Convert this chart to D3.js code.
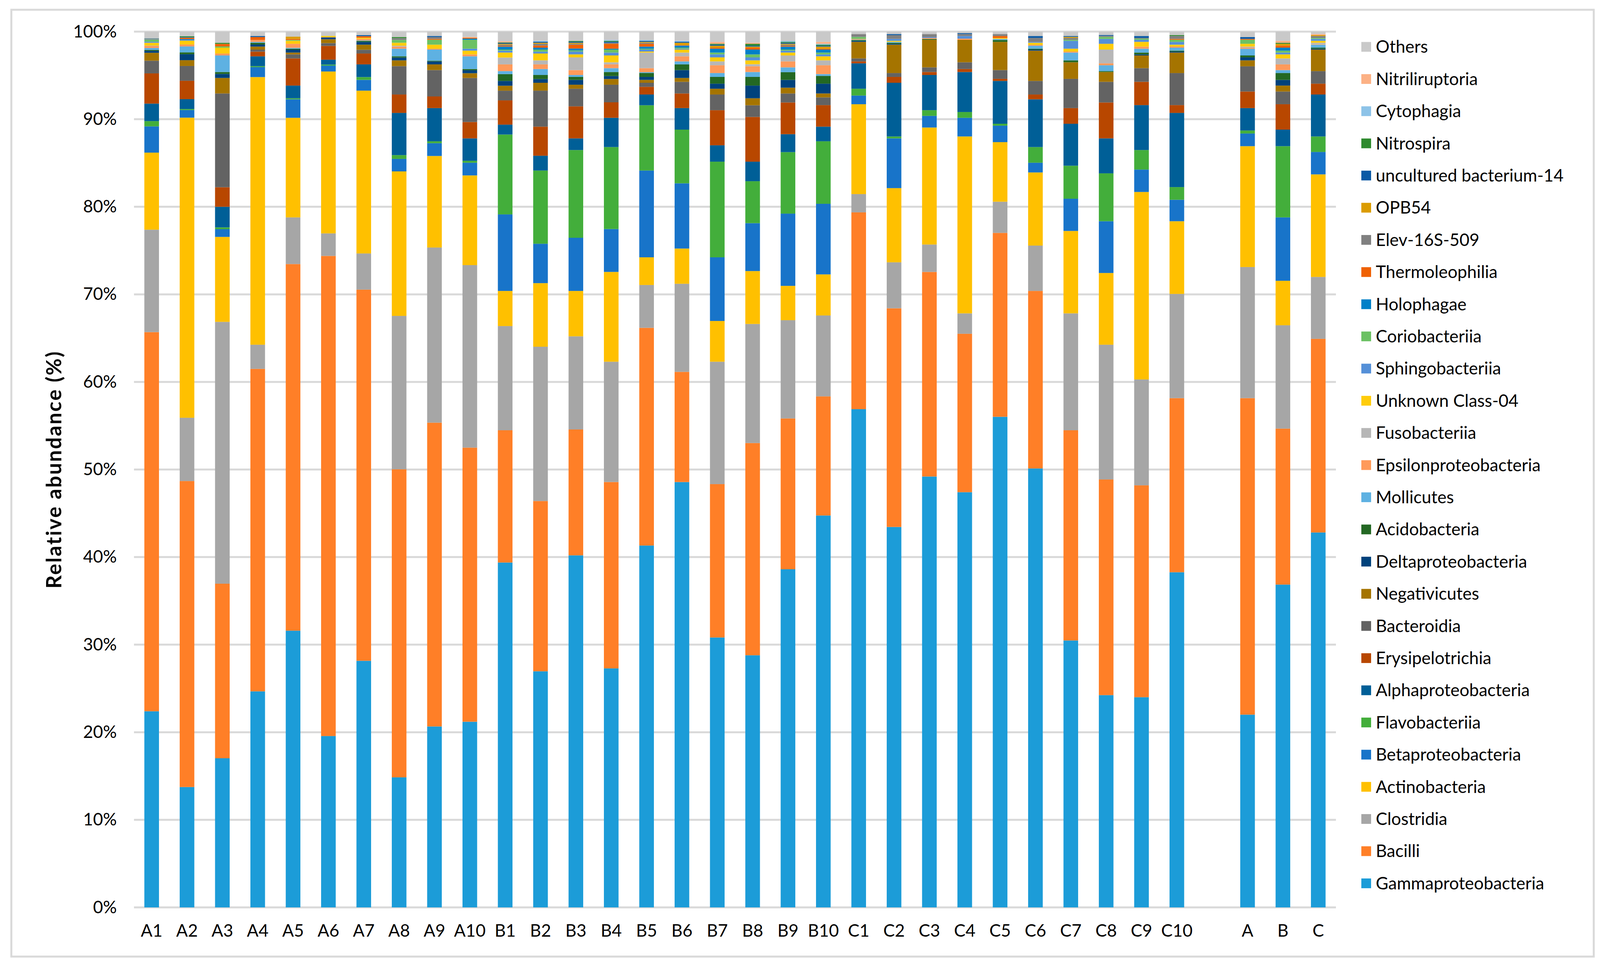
<!DOCTYPE html>
<html>
<head>
<meta charset="utf-8">
<script src="https://cdn.jsdelivr.net/npm/d3@7"></script>
<style>
  html, body { margin: 0; padding: 0; background: #fff; }
  svg { display: block; }
  text { font-family: Lato, "Open Sans", "Liberation Sans", sans-serif; fill: #000; }
</style>
</head>
<body>
<svg id="chart" width="4108" height="2469"></svg>
<script>
// ---------------- DATA ----------------
const categories = ["A1","A2","A3","A4","A5","A6","A7","A8","A9","A10",
                    "B1","B2","B3","B4","B5","B6","B7","B8","B9","B10",
                    "C1","C2","C3","C4","C5","C6","C7","C8","C9","C10",
                    "A","B","C"];
const spacerAfter = "C10";   // an empty slot separates the samples from the group means

const seriesNames = ["Gammaproteobacteria","Bacilli","Clostridia","Actinobacteria","Betaproteobacteria",
  "Flavobacteriia","Alphaproteobacteria","Erysipelotrichia","Bacteroidia","Negativicutes",
  "Deltaproteobacteria","Acidobacteria","Mollicutes","Epsilonproteobacteria","Fusobacteriia",
  "Unknown Class-04","Sphingobacteriia","Coriobacteriia","Holophagae","Thermoleophilia",
  "Elev-16S-509","OPB54","uncultured bacterium-14","Nitrospira","Cytophagia","Nitriliruptoria","Others"];

const gammaproteobacteria = [22.4,13.74,17.03,24.67,31.6,19.55,28.16,14.85,20.66,21.2, 39.38,26.96,40.2,27.29,41.32,48.57,30.82,28.79,38.61,44.75, 56.89,43.44,49.2,47.41,56.02,50.12,30.48,24.24,24.0,38.27, 22.01,36.86,42.81];
const bacilli = [43.3,34.93,19.93,36.82,41.86,54.78,42.38,35.17,34.69,31.3, 15.1,19.44,14.37,21.28,24.86,12.58,17.51,24.23,17.22,13.6, 22.47,24.97,23.36,18.09,21.0,20.27,24.0,24.62,24.19,19.88, 36.14,17.81,22.11];
const clostridia = [11.7,7.23,29.9,2.76,5.33,2.57,4.13,17.52,20.0,20.84, 11.9,17.62,10.64,13.74,4.89,10.06,13.98,13.6,11.22,9.24, 2.09,5.25,3.13,2.33,3.56,5.18,13.35,15.39,12.09,11.9, 14.97,11.8,7.07];
const actinobacteria = [8.8,34.26,9.7,30.56,11.37,18.47,18.59,16.5,10.45,10.24, 4.01,7.26,5.18,10.25,3.16,4.02,4.65,6.04,3.92,4.69, 10.26,8.47,13.36,20.2,6.8,8.35,9.41,8.19,21.41,8.3, 13.8,5.08,11.71];
const betaproteobacteria = [3.0,0.87,0.88,1.13,2.11,0.67,1.23,1.43,1.46,1.45, 8.74,4.5,6.07,4.9,9.91,7.45,7.27,5.47,8.25,8.06, 0.99,5.68,1.33,2.13,1.88,1.11,3.68,5.91,2.56,2.45, 1.45,7.24,2.56];
const flavobacteriia = [0.6,0.12,0.21,0.12,0.12,0.12,0.32,0.43,0.22,0.22, 9.12,8.36,10.02,9.36,7.45,6.13,10.92,4.79,7.02,7.14, 0.78,0.22,0.65,0.66,0.22,1.79,3.77,5.47,2.23,1.45, 0.34,8.13,1.77];
const alphaproteobacteria = [2.0,1.12,2.35,1.12,1.45,0.56,1.45,4.82,3.79,2.56, 1.13,1.69,1.33,3.34,1.23,2.46,1.87,2.23,2.05,1.67, 2.9,6.13,4.02,4.57,4.89,5.45,4.79,3.99,5.13,8.47, 2.56,1.89,4.79];
const erysipelotrichia = [3.45,2.1,2.23,0.53,3.1,1.57,1.24,2.1,1.33,1.87, 2.77,3.32,3.66,1.77,0.88,1.67,4.01,5.11,3.62,2.46, 0.22,0.67,0.34,0.34,0.24,0.55,1.79,4.1,2.66,0.89, 1.89,2.9,1.24];
const bacteroidia = [1.45,1.69,10.71,0.24,0.46,0.32,0.43,3.24,3.01,5.03, 1.11,4.11,2.01,2.01,0.46,1.33,1.79,1.33,1.03,0.88, 0.34,0.44,0.53,0.77,1.0,1.55,3.34,2.36,1.56,3.66, 2.88,1.45,1.43];
const negativicutes = [0.9,0.66,1.77,0.34,0.21,0.44,0.58,0.66,0.65,0.54, 0.56,0.9,0.46,0.65,0.33,0.44,0.66,0.8,0.66,0.45, 1.89,3.24,3.15,2.57,3.22,3.46,1.89,1.12,1.45,2.34, 0.68,0.68,2.46];
const deltaproteobacteria = [0.23,0.68,0.46,0.24,0.34,0.21,0.32,0.32,0.34,0.34, 0.55,0.43,0.55,0.34,0.34,0.9,0.58,1.45,0.89,1.12, 0.12,0.1,0,0,0,0.12,0,0,0.12,0.12, 0.34,0.65,0.1];
const acidobacteria = [0.1,0.21,0.22,0.2,0.1,0,0.12,0.14,0.08,0.14, 0.78,0.46,0.34,0.46,0.44,0.65,0.77,0.99,0.88,0.89, 0.1,0.12,0.1,0,0.22,0.1,0.22,0.1,0.21,0.1, 0.22,0.78,0.12];
const mollicutes = [0.22,0.68,1.89,0.1,0.1,0,0.05,0.87,1.27,1.45, 0.34,0.68,0.22,0.44,0.1,0.34,0.44,0.56,0.55,0.2, 0.04,0.1,0,0,0.12,0.34,0.89,0.67,0.44,0.34, 0.77,0.34,0.34];
const epsilonproteobacteria = [0.22,0.22,0.22,0.22,0.46,0.04,0.17,0.24,0.1,0.22, 0.77,0.53,0.56,0.43,0.46,0.58,0.89,0.65,0.68,1.01, 0.08,0,0.11,0.13,0,0.1,0.12,0.22,0.24,0.14, 0.12,0.65,0.05];
const fusobacteriia = [0.05,0,0,0,0,0,0,0.1,0,0, 0.78,0.46,1.45,0.24,1.78,0.43,0.44,0.24,0.68,0.56, 0,0,0,0,0,0,0,1.57,0,0, 0.12,0.68,0.17];
const unknownClass04 = [0.33,0.44,0.67,0,0.34,0.14,0.13,0.34,0.46,0.43, 0.57,0.78,0.34,0.78,0.12,0.34,0.46,0.44,0.33,0.46, 0,0.12,0,0,0.11,0.24,0.32,0.66,0.54,0.2, 0.32,0.46,0.22];
const sphingobacteriia = [0.12,0.1,0,0,0,0,0,0,0,0.22, 0.22,0.21,0.33,0.33,0.22,0.1,0.34,0.34,0.22,0.22, 0,0.22,0.1,0.3,0,0.1,0.9,0.56,0.24,0.32, 0,0.21,0.22];
const coriobacteriia = [0.22,0,0.14,0,0.1,0,0,0.32,0.56,1.02, 0.12,0.24,0.12,0.34,0.1,0.12,0.21,0.34,0.12,0.21, 0.23,0,0,0,0,0,0.12,0.23,0.13,0.24, 0.46,0.22,0.11];
const holophagae = [0.03,0.08,0,0,0,0,0,0,0,0.13, 0.34,0.22,0.22,0.1,0.24,0.24,0.44,0.55,0.34,0.34, 0,0,0,0,0,0,0,0,0,0, 0,0.34,0];
const thermoleophilia = [0.02,0.15,0.29,0.33,0.12,0,0.18,0,0.1,0.1, 0.1,0.24,0.44,0.56,0.32,0.06,0.12,0.22,0.1,0.1, 0,0,0,0,0.22,0,0,0,0,0.1, 0.1,0.24,0];
const elev16S509 = [0.04,0.03,0,0,0,0,0,0.21,0.21,0, 0.12,0.2,0.1,0.12,0.12,0,0,0,0.12,0, 0.32,0.43,0.34,0.22,0.22,0.45,0.21,0.12,0.08,0.33, 0,0,0.22];
const opb54 = [0.02,0,0,0,0.25,0,0,0,0,0, 0.1,0.12,0.12,0,0.1,0.26,0.22,0.12,0.1,0.24, 0,0,0,0,0,0,0.12,0,0,0, 0,0.2,0.1];
const unculturedBacterium14 = [0.05,0.05,0,0.12,0,0,0.12,0,0.12,0, 0.1,0.12,0.12,0.12,0.12,0.12,0.12,0.1,0.12,0.1, 0,0.12,0,0.1,0,0.22,0.1,0.1,0.22,0, 0.21,0,0];
const nitrospira = [0.01,0.1,0.13,0,0,0,0,0.12,0,0, 0.06,0,0.08,0.1,0,0,0.1,0.22,0.1,0.12, 0,0,0,0,0,0,0,0,0,0.1, 0,0.12,0];
const cytophagia = [0.01,0,0,0,0,0,0,0,0,0, 0,0.1,0,0.1,0.1,0.1,0,0,0.1,0.1, 0,0,0,0,0,0,0,0,0,0, 0,0,0];
const nitriliruptoria = [0.01,0,0,0,0,0,0,0,0,0.1, 0.12,0,0,0,0,0,0.22,0.12,0,0.22, 0,0,0,0,0,0,0,0,0,0, 0,0.22,0.12];
const others = [0.74,0.52,1.27,0.5,0.58,0.48,0.4,0.62,0.5,0.6, 1.11,1.05,1.07,0.95,0.95,1.05,1.17,1.27,1.07,1.17, 0.28,0.28,0.28,0.18,0.28,0.5,0.5,0.38,0.5,0.4, 0.62,1.05,0.28];

const seriesValues = [gammaproteobacteria, bacilli, clostridia, actinobacteria, betaproteobacteria,
  flavobacteriia, alphaproteobacteria, erysipelotrichia, bacteroidia, negativicutes,
  deltaproteobacteria, acidobacteria, mollicutes, epsilonproteobacteria, fusobacteriia,
  unknownClass04, sphingobacteriia, coriobacteriia, holophagae, thermoleophilia,
  elev16S509, opb54, unculturedBacterium14, nitrospira, cytophagia, nitriliruptoria, others];

const seriesColors = ["#1c9cd8","#ff7f27","#a6a6a6","#ffc000","#1874c9",
  "#43ae3b","#005f97","#b84700","#636363","#a57400",
  "#00427c","#236823","#5eb1e2","#ff9a5a","#b7b7b7",
  "#ffcc0a","#5590d8","#6cc164","#0080c8","#ef6103",
  "#808080","#db9c00","#0b5aa5","#2f8a2f","#8dc3e8","#fcb185","#c9c9c9"];

const yTicks = [0,0.1,0.2,0.3,0.4,0.5,0.6,0.7,0.8,0.9,1.0];

// ---------------- LAYOUT ----------------
const W = 4108, H = 2469;
const plot = {left: 343, right: 3420, top: 81, bottom: 2324};

const svg = d3.select("#chart");
svg.append("rect").attr("x",0).attr("y",0).attr("width",W).attr("height",H).attr("fill","#fff");
// outer chart border
svg.append("rect").attr("x",29).attr("y",25).attr("width",4051).attr("height",2425)
   .attr("fill","none").attr("stroke","#d9d9d9").attr("stroke-width",5);

// x domain: samples, a spacer slot, then group means
const xDomain = [];
categories.forEach(c => { xDomain.push(c); if (c === spacerAfter) xDomain.push(" "); });

const x = d3.scaleBand().domain(xDomain).range([plot.left, plot.right])
  .paddingInner(0.586).paddingOuter(0.293);
const y = d3.scaleLinear().domain([0,1]).range([plot.bottom, plot.top]);

// table for stacking
const table = categories.map((c, i) => {
  const row = {category: c};
  seriesNames.forEach((s, k) => row[s] = seriesValues[k][i]);
  return row;
});
const stacked = d3.stack().keys(seriesNames).offset(d3.stackOffsetExpand)(table);

// gridlines
svg.append("g").selectAll("line").data(yTicks).join("line")
  .attr("x1", plot.left).attr("x2", plot.right)
  .attr("y1", d => y(d)).attr("y2", d => y(d))
  .attr("stroke", "#d9d9d9").attr("stroke-width", 5);

// bars
const color = d3.scaleOrdinal().domain(seriesNames).range(seriesColors);
svg.append("g").selectAll("g").data(stacked).join("g")
  .attr("fill", d => color(d.key))
  .selectAll("rect").data(d => d).join("rect")
  .attr("x", d => x(d.data.category))
  .attr("width", x.bandwidth())
  .attr("y", d => y(d[1]))
  .attr("height", d => Math.max(0, y(d[0]) - y(d[1])));

// y axis labels
const yAxis = d3.axisLeft(y).tickValues(yTicks).tickFormat(d3.format(".0%")).tickSize(0).tickPadding(44);
const gy = svg.append("g").attr("transform", `translate(${plot.left},0)`).call(yAxis);
gy.select(".domain").remove();
gy.selectAll("text").style("font-size","44px").style("font-family","Lato, sans-serif").attr("fill","#000");

// x axis labels
const xAxis = d3.axisBottom(x).tickSize(0).tickPadding(44);
const gx = svg.append("g").attr("transform", `translate(0,${plot.bottom})`).call(xAxis);
gx.select(".domain").remove();
gx.selectAll("text").style("font-size","44px").style("font-family","Lato, sans-serif").attr("fill","#000");

// y axis title
svg.append("text")
  .attr("transform", `translate(157,${(plot.top+plot.bottom)/2}) rotate(-90)`)
  .attr("text-anchor","middle")
  .style("font-size","53px").style("font-weight","bold").style("letter-spacing","3px")
  .text("Relative abundance  (%)");

// legend (reverse stack order: Others on top)
const legendItems = seriesNames.slice().reverse();
const lg = svg.append("g").selectAll("g").data(legendItems).join("g")
  .attr("transform", (d,i) => `translate(3485,${120 + i*82.4})`);
lg.append("rect").attr("x",0).attr("y",-12.5).attr("width",25).attr("height",25)
  .attr("fill", d => color(d));
lg.append("text").attr("x",37).attr("y",0).attr("dy","0.35em")
  .style("font-size","44px").text(d => d);
</script>
</body>
</html>
